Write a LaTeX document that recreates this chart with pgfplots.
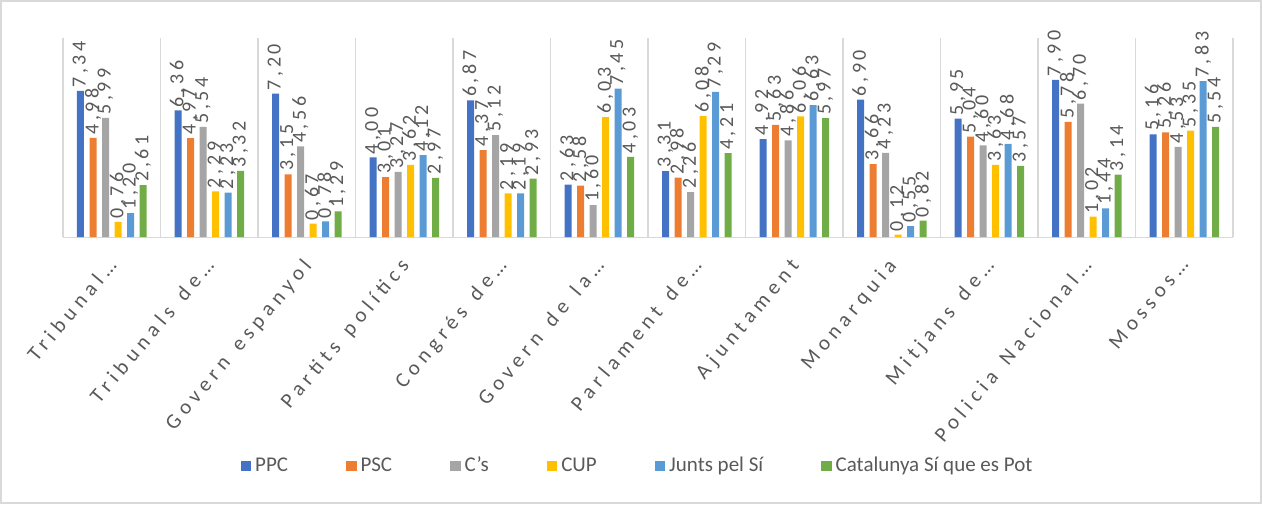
\documentclass[border=0pt]{standalone}
\usepackage{fontspec}
\setmainfont{Carlito}
\newfontfamily\spaced[LetterSpace=25,WordSpace=1.4]{Carlito}
\newfontfamily\spacednum[LetterSpace=18]{Carlito}
\usepackage{pgfplots}
\pgfplotsset{compat=1.18}
\definecolor{cPPC}{HTML}{4472C4}
\definecolor{cPSC}{HTML}{ED7D31}
\definecolor{cCs}{HTML}{A5A5A5}
\definecolor{cCUP}{HTML}{FFC000}
\definecolor{cJxS}{HTML}{5B9BD5}
\definecolor{cCSQP}{HTML}{70AD47}
\definecolor{txt}{HTML}{595959}
\definecolor{sep}{HTML}{D9D9D9}

\begin{document}
\begin{tikzpicture}
\path[use as bounding box] (-31.5pt,-133.5pt) rectangle (599.5pt,118.5pt);
\draw[sep,line width=0.6pt] (-31pt,-133pt) rectangle (599pt,118pt);
\begin{axis}[
    at={(0,0)}, anchor=south west,
    scale only axis,
    width=585pt, height=99.5pt,
    ybar=2.75pt, bar width=3.5pt,
    ymin=0, ymax=10,
    xmin=-0.5, xmax=11.5,
    axis x line*=bottom,
    axis y line=none,
    x axis line style={sep,-},
    xtick={0,...,11},
    major tick length=0pt,
    minor tick length=0pt,
    minor xtick={-0.5,0.5,...,11.5},
    xminorgrids,
    minor grid style={sep,line width=0.6pt},
    xticklabels={Tribunal…,Tribunals de…,Govern espanyol,Partits polítics,Congrés de…,Govern de la…,Parlament de…,Ajuntament,Monarquia,Mitjans de…,Policia Nacional…,Mossos…},
    xticklabel style={shift={(-3pt,-7pt)}, rotate=50, anchor=north east, font=\spaced\fontsize{10.5}{12}\selectfont, text=txt, inner sep=2pt},
    clip=false,
    nodes near coords,
    every node near coord/.append style={rotate=90, anchor=west, font=\spacednum\fontsize{10}{11}\selectfont, text=txt, inner sep=1.5pt},
    /pgf/number format/.cd, fixed, fixed zerofill, precision=2, use comma, assume math mode=true,
    /pgfplots/.cd,
    legend style={at={(0.492,-1.15)}, anchor=center, draw=none, fill=none, legend columns=-1,
        font=\fontsize{10.5}{12}\selectfont, text=txt,
        /tikz/every even column/.append style={column sep=27pt}},
    legend image code/.code={\fill[#1,draw=none] (0pt,-2.6pt) rectangle (5.2pt,2.6pt);},
]
\addplot[fill=cPPC,draw=none] coordinates {(0,7.34) (1,6.36) (2,7.20) (3,4.00) (4,6.87) (5,2.63) (6,3.31) (7,4.92) (8,6.90) (9,5.95) (10,7.90) (11,5.16)};
\addlegendentry{PPC}
\addplot[fill=cPSC,draw=none] coordinates {(0,4.98) (1,4.97) (2,3.15) (3,3.01) (4,4.37) (5,2.58) (6,2.98) (7,5.63) (8,3.66) (9,5.04) (10,5.78) (11,5.26)};
\addlegendentry{PSC}
\addplot[fill=cCs,draw=none] coordinates {(0,5.99) (1,5.54) (2,4.56) (3,3.27) (4,5.12) (5,1.60) (6,2.26) (7,4.86) (8,4.23) (9,4.60) (10,6.70) (11,4.53)};
\addlegendentry{C's}
\addplot[fill=cCUP,draw=none] coordinates {(0,0.76) (1,2.29) (2,0.67) (3,3.62) (4,2.19) (5,6.03) (6,6.08) (7,6.06) (8,0.12) (9,3.63) (10,1.02) (11,5.35)};
\addlegendentry{CUP}
\addplot[fill=cJxS,draw=none] coordinates {(0,1.20) (1,2.23) (2,0.78) (3,4.12) (4,2.19) (5,7.45) (6,7.29) (7,6.63) (8,0.55) (9,4.68) (10,1.44) (11,7.83)};
\addlegendentry{Junts pel Sí}
\addplot[fill=cCSQP,draw=none] coordinates {(0,2.61) (1,3.32) (2,1.29) (3,2.97) (4,2.93) (5,4.03) (6,4.21) (7,5.97) (8,0.82) (9,3.57) (10,3.14) (11,5.54)};
\addlegendentry{Catalunya Sí que es Pot}
\end{axis}
\end{tikzpicture}
\end{document}
